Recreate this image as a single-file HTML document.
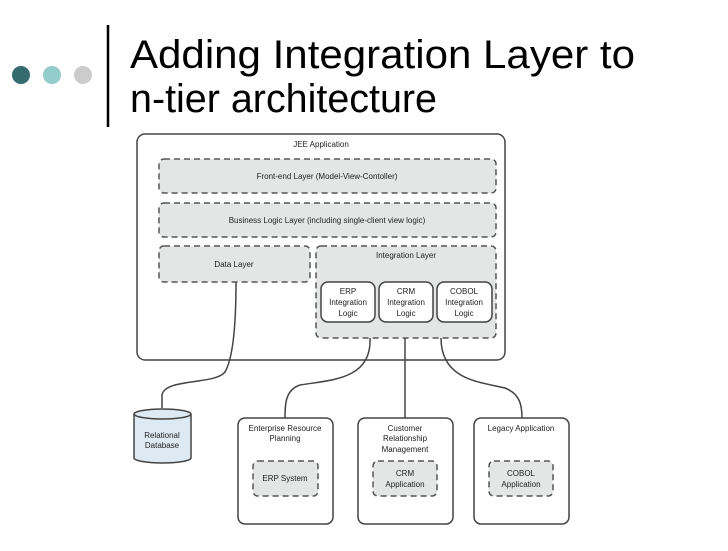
<!DOCTYPE html>
<html><head><style>
body{margin:0;width:728px;height:546px;background:#fff;overflow:hidden;font-family:"Liberation Sans",sans-serif;}
</style></head><body>
<svg width="728" height="546" viewBox="0 0 728 546" xmlns="http://www.w3.org/2000/svg" font-family="Liberation Sans, sans-serif">
<circle cx="21" cy="75" r="9" fill="#336b70"/>
<circle cx="52" cy="75" r="9" fill="#93cbcb"/>
<circle cx="83" cy="75" r="9" fill="#cccccc"/>
<line x1="108" y1="25" x2="108" y2="127" stroke="#000" stroke-width="2.5"/>
<text x="130" y="68" font-size="40" fill="#000" textLength="505" lengthAdjust="spacingAndGlyphs">Adding Integration Layer to</text>
<text x="130" y="112" font-size="40" fill="#000" textLength="307" lengthAdjust="spacingAndGlyphs">n-tier architecture</text>
<g stroke="#444" fill="none" stroke-width="1.5">
<rect x="137" y="134" width="368" height="226" rx="8"/>
<path d="M236 282 C236 330 232 360 225 372 C215 385 165 378 162 395 L162 408"/>
<path d="M370 338 C372 380 330 380 300 385 C285 390 285 405 285 418"/>
<path d="M405 338 L405 418"/>
<path d="M441 338 C441 380 480 382 505 388 C520 394 522 405 522 418"/>
</g>
<g stroke="#444" stroke-width="1.5" fill="#fff">
<rect x="238" y="418" width="95" height="106" rx="7"/>
<rect x="358" y="418" width="95" height="106" rx="7"/>
<rect x="474" y="418" width="95" height="106" rx="7"/>
</g>
<g stroke="#555" stroke-width="1.5" stroke-dasharray="6,4" fill="#e3e6e4">
<rect x="159" y="159" width="337" height="34" rx="5"/>
<rect x="159" y="203" width="337" height="34" rx="5"/>
<rect x="159" y="246" width="151" height="36" rx="5"/>
<rect x="316" y="246" width="180" height="92" rx="5"/>
<rect x="253" y="461" width="65" height="35" rx="5"/>
<rect x="373" y="461" width="64" height="35" rx="5"/>
<rect x="489" y="461" width="64" height="35" rx="5"/>
</g>
<g stroke="#444" stroke-width="1.5" fill="#fff">
<rect x="321" y="282" width="54" height="40" rx="7"/>
<rect x="379" y="282" width="54" height="40" rx="7"/>
<rect x="437" y="282" width="55" height="40" rx="7"/>
</g>
<path d="M134 414 L134 458 A28.5 5 0 0 0 191 458 L191 414" fill="#ddeaf3" stroke="#444" stroke-width="1.5"/>
<ellipse cx="162.5" cy="414" rx="28.5" ry="5" fill="#ddeaf3" stroke="#444" stroke-width="1.5"/>
<g font-size="8" fill="#222" text-anchor="middle">
<text x="321" y="147">JEE Application</text>
<text x="327" y="179">Front-end Layer (Model-View-Contoller)</text>
<text x="327" y="223">Business Logic Layer (including single-client view logic)</text>
<text x="234" y="267">Data Layer</text>
<text x="406" y="258">Integration Layer</text>
<text x="348" y="294">ERP</text><text x="348" y="305">Integration</text><text x="348" y="316">Logic</text>
<text x="406" y="294">CRM</text><text x="406" y="305">Integration</text><text x="406" y="316">Logic</text>
<text x="464" y="294">COBOL</text><text x="464" y="305">Integration</text><text x="464" y="316">Logic</text>
<text x="162" y="438">Relational</text><text x="162" y="448">Database</text>
<text x="285" y="431">Enterprise Resource</text><text x="285" y="441">Planning</text>
<text x="405" y="431">Customer</text><text x="405" y="441">Relationship</text><text x="405" y="452">Management</text>
<text x="521" y="431">Legacy Application</text>
<text x="285" y="481">ERP System</text>
<text x="405" y="476">CRM</text><text x="405" y="487">Application</text>
<text x="521" y="476">COBOL</text><text x="521" y="487">Application</text>
</g>
</svg>
</body></html>
